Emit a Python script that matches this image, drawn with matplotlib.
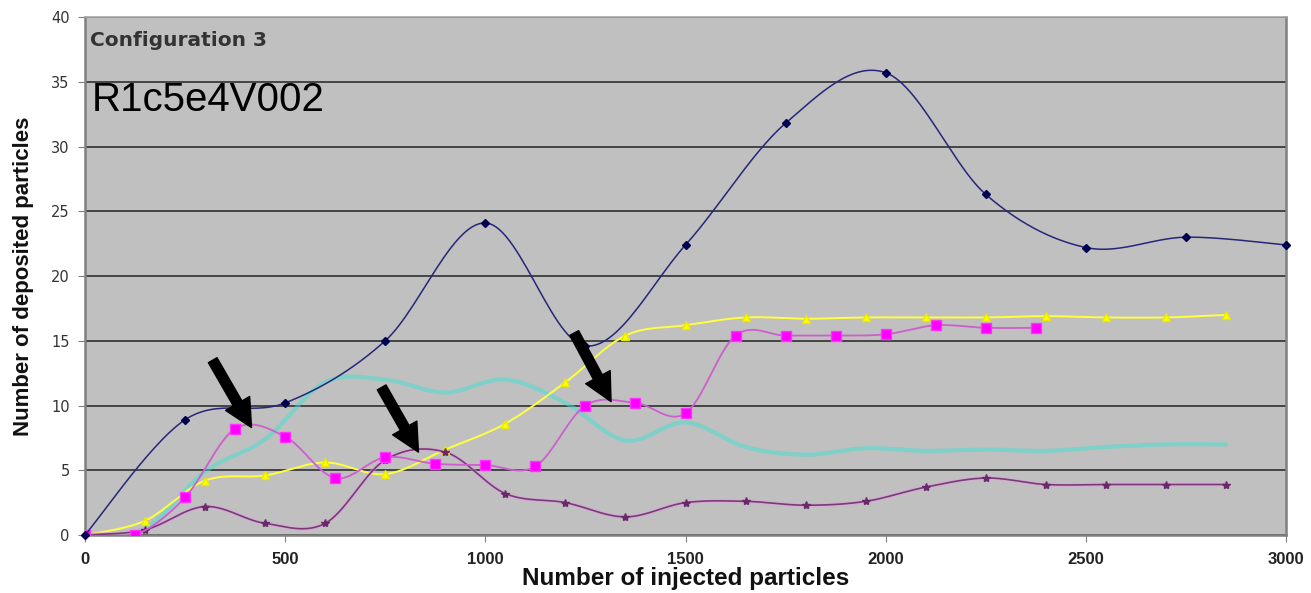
import numpy as np
import matplotlib
matplotlib.use("Agg")
import matplotlib.pyplot as plt

# --- data ---
x_blue = [0, 250, 500, 750, 1000, 1250, 1500, 1750, 2000, 2250, 2500, 2750, 3000]
y_blue = [0, 8.9, 10.2, 15.0, 24.1, 14.6, 22.4, 31.8, 35.7, 26.3, 22.2, 23.0, 22.4]

x_magenta = [0, 125, 250, 375, 500, 625, 750, 875, 1000, 1125, 1250, 1375,
             1500, 1625, 1750, 1875, 2000, 2125, 2250, 2375]
y_magenta = [0, 0, 2.9, 8.2, 7.6, 4.4, 6.0, 5.5, 5.4, 5.3, 10.0, 10.2,
             9.4, 15.4, 15.4, 15.4, 15.5, 16.2, 16.0, 16.0]

x_yellow = [0, 150, 300, 450, 600, 750, 900, 1050, 1200, 1350, 1500, 1650,
            1800, 1950, 2100, 2250, 2400, 2550, 2700, 2850]
y_yellow = [0, 1.1, 4.2, 4.6, 5.6, 4.7, 6.6, 8.6, 11.8, 15.4, 16.2, 16.8,
            16.7, 16.8, 16.8, 16.8, 16.9, 16.8, 16.8, 17.0]

x_cyan = [0, 150, 300, 450, 600, 750, 900, 1050, 1200, 1350, 1500, 1650,
          1800, 1950, 2100, 2250, 2400, 2550, 2700, 2850]
y_cyan = [0, 0.5, 4.9, 7.4, 11.8, 12.0, 11.0, 12.0, 10.2, 7.3, 8.7, 6.8,
          6.2, 6.7, 6.5, 6.6, 6.5, 6.8, 7.0, 7.0]

x_purple = [0, 150, 300, 450, 600, 750, 900, 1050, 1200, 1350, 1500, 1650,
            1800, 1950, 2100, 2250, 2400, 2550, 2700, 2850]
y_purple = [0, 0.4, 2.2, 0.9, 0.9, 5.8, 6.4, 3.2, 2.5, 1.4, 2.5, 2.6,
            2.3, 2.6, 3.7, 4.4, 3.9, 3.9, 3.9, 3.9]

# arrows: (tail, tip) in data units
arrows = [((319, 13.5), (416, 8.3)),
          ((741, 11.4), (833, 6.4)),
          ((1222, 15.6), (1314, 10.3))]

x_ticks = [0, 500, 1000, 1500, 2000, 2500, 3000]
y_ticks = [0, 5, 10, 15, 20, 25, 30, 35, 40]


def smooth(x, y, n=30):
    # Excel-like smoothed line: cubic Bezier with Catmull-Rom control points
    x = np.asarray(x, float)
    y = np.asarray(y, float)
    px = np.concatenate([[x[0]], x, [x[-1]]])
    py = np.concatenate([[y[0]], y, [y[-1]]])
    xs, ys = [], []
    t = np.linspace(0, 1, n)
    for i in range(1, len(px) - 2):
        p0 = np.array([px[i], py[i]])
        p3 = np.array([px[i + 1], py[i + 1]])
        c1 = p0 + (np.array([px[i + 1], py[i + 1]]) - np.array([px[i - 1], py[i - 1]])) / 6
        c2 = p3 - (np.array([px[i + 2], py[i + 2]]) - np.array([px[i], py[i]])) / 6
        b = ((1 - t) ** 3)[:, None] * p0 + (3 * (1 - t) ** 2 * t)[:, None] * c1 \
            + (3 * (1 - t) * t ** 2)[:, None] * c2 + (t ** 3)[:, None] * p3
        xs.append(b[:, 0])
        ys.append(b[:, 1])
    return np.concatenate(xs), np.concatenate(ys)


fig = plt.figure(figsize=(13.11, 5.93), dpi=100)
fig.patch.set_facecolor("white")
ax = fig.add_axes([0.0648, 0.0978, 0.9162, 0.8735])
ax.set_facecolor("#c0c0c0")

# cyan series (no markers, wide pale line)
cx, cy = smooth(x_cyan, y_cyan)
ax.plot(cx, cy, color="#40e0d0", lw=3.0, alpha=0.5, zorder=2, solid_capstyle="round")

# yellow
sx, sy = smooth(x_yellow, y_yellow)
ax.plot(sx, sy, color="#ffff40", lw=1.4, zorder=3)
ax.plot(x_yellow, y_yellow, ls="none", marker="^", ms=6, color="#ffff00",
        mec="#e8e800", zorder=4)

# purple
sx, sy = smooth(x_purple, y_purple)
ax.plot(sx, sy, color="#e0a0e0", lw=3.0, alpha=0.5, zorder=3)
ax.plot(sx, sy, color="#7a3a7a", lw=1.2, zorder=3)
ax.plot(x_purple, y_purple, ls="none", marker="*", ms=6, color="#6a2a6a", zorder=4)

# magenta
sx, sy = smooth(x_magenta, y_magenta)
ax.plot(sx, sy, color="#cc5fcc", lw=1.3, zorder=5)
ax.plot(x_magenta, y_magenta, ls="none", marker="s", ms=6.5, color="#ff00ff",
        mec="#ff33ff", zorder=6)

# navy
sx, sy = smooth(x_blue, y_blue)
ax.plot(sx, sy, color="#26267a", lw=1.1, zorder=7)
ax.plot(x_blue, y_blue, ls="none", marker="D", ms=4.5, color="#000050", zorder=8,
        clip_on=False)

for tail, tip in arrows:
    ax.annotate("", xy=tip, xytext=tail,
                arrowprops=dict(arrowstyle="simple,head_length=1.0,head_width=1.0,tail_width=0.36",
                                color="black", mutation_scale=20, shrinkA=0, shrinkB=0),
                zorder=10)

ax.set_xlim(0, 3000)
ax.set_ylim(0, 40)
ax.set_xticks(x_ticks)
ax.set_yticks(y_ticks)
ax.set_xticklabels([str(v) for v in x_ticks],
                   fontdict=dict(family=["Liberation Sans Narrow", "Liberation Sans"],
                                 weight="bold", size=12))
ax.set_yticklabels([str(v) for v in y_ticks], fontdict=dict(family="DejaVu Sans", size=10.5))
ax.tick_params(axis="x", length=5, color="#808080", pad=7, colors="#222222")
ax.tick_params(axis="y", length=5, color="#808080", pad=6, colors="#333333")

ax.grid(axis="y", color="#444444", lw=1.4, zorder=1)
ax.set_axisbelow(True)
for side in ["left", "bottom", "right"]:
    ax.spines[side].set_color("#808080")
    ax.spines[side].set_linewidth(1.8)
ax.spines["top"].set_color("#a8a8a8")
ax.spines["top"].set_linewidth(1.2)

ax.set_xlabel("Number of injected particles", family="Liberation Sans", weight="bold",
              size=17.5, labelpad=0, color="#111111")
ax.set_ylabel("Number of deposited particles", family="Liberation Sans", weight="bold",
              size=16, labelpad=12, color="#111111")

ax.text(0.0045, 0.955, "Configuration 3", transform=ax.transAxes, family="DejaVu Sans",
        weight="bold", size=14.5, color="#333333", va="center", ha="left")
ax.text(0.006, 0.84, "R1c5e4V002", transform=ax.transAxes, family="Liberation Sans",
        size=29, color="black", va="center", ha="left")

fig.savefig("out.png", dpi=100)
